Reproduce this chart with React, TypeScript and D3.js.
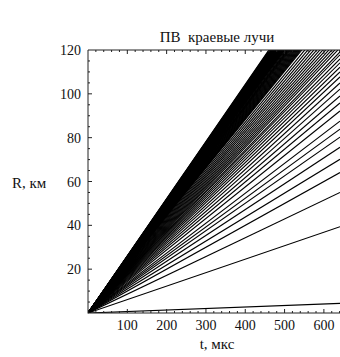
import { useEffect, useRef } from "react"
import * as d3 from "d3"

// ray speeds R/t, km per µs (read from where each ray leaves the frame)
const raySpeeds = [
  0.2608, 0.2601, 0.2594, 0.2587, 0.258, 0.2573, 0.2566, 0.2559, 0.2552, 0.2545,
  0.2538, 0.2531, 0.2525, 0.2518, 0.2511, 0.2504, 0.2498, 0.2491, 0.2485, 0.2478,
  0.2472, 0.2465, 0.2459, 0.2452, 0.2446, 0.244, 0.2434, 0.2427, 0.2421, 0.2415,
  0.2409, 0.2402, 0.2396, 0.2384, 0.2372, 0.2363, 0.2355, 0.2346, 0.2337, 0.2326,
  0.2314, 0.2303, 0.2292, 0.2281, 0.227, 0.2259, 0.2248, 0.2237, 0.2227, 0.2216,
  0.2206, 0.2176, 0.2146, 0.2117, 0.2089, 0.2062, 0.2035, 0.2009, 0.1984, 0.1959,
  0.1935, 0.1911, 0.1888, 0.1859, 0.1838, 0.1809, 0.1781, 0.175, 0.1716, 0.1681,
  0.1638, 0.1594, 0.1545, 0.1495, 0.1438, 0.1366, 0.1309, 0.1252, 0.118, 0.1094,
  0.1, 0.0858, 0.0614, 0.0068,
]

const xTickValues = [100, 200, 300, 400, 500, 600]
const yTickValues = [20, 40, 60, 80, 100, 120]
const tDomain = [0, 641]
const rDomain = [0, 120]

const title = "ПВ  краевые лучи"
const xTitle = "t, мкс"
const yTitle = "R, км"

export default function App() {
  const svgRef = useRef<SVGSVGElement>(null)

  useEffect(() => {
    if (!svgRef.current) return
    const svg = d3.select(svgRef.current)
    svg.selectAll("*").remove()

    const left = 88
    const right = 340
    const top = 50
    const bottom = 313
    const font = "'Liberation Serif', 'Times New Roman', serif"

    const x = d3.scaleLinear().domain(tDomain).range([left, right])
    const y = d3.scaleLinear().domain(rDomain).range([bottom, top])

    svg
      .append("defs")
      .append("clipPath")
      .attr("id", "plot-clip")
      .append("rect")
      .attr("x", left)
      .attr("y", top)
      .attr("width", right - left + 2)
      .attr("height", bottom - top)

    const line = d3
      .line<[number, number]>()
      .x((d) => x(d[0]))
      .y((d) => y(d[1]))

    svg
      .append("g")
      .attr("clip-path", "url(#plot-clip)")
      .selectAll("path")
      .data(raySpeeds)
      .enter()
      .append("path")
      .attr("d", (v) => line([[0, 0], [tDomain[1], v * tDomain[1]]]))
      .attr("fill", "none")
      .attr("stroke", "#000")
      .attr("stroke-width", 1.15)

    // frame
    const frame = svg.append("g").attr("stroke", "#222").attr("stroke-width", 1).attr("fill", "none")
    frame.append("line").attr("x1", left).attr("x2", left).attr("y1", top).attr("y2", bottom + 0.5)
    frame.append("line").attr("x1", left).attr("x2", right + 1).attr("y1", bottom).attr("y2", bottom)
    frame.append("line").attr("x1", left).attr("x2", right + 1).attr("y1", top).attr("y2", top)

    const xMinor = d3.range(20, tDomain[1], 20)
    const yMinor = d3.range(5, rDomain[1], 5)

    const tickG = svg.append("g").attr("stroke", "#222").attr("stroke-width", 1)
    xMinor.forEach((t) => {
      const len = t % 100 === 0 ? 4 : 2
      tickG.append("line").attr("x1", x(t)).attr("x2", x(t)).attr("y1", bottom).attr("y2", bottom - len)
      tickG.append("line").attr("x1", x(t)).attr("x2", x(t)).attr("y1", top).attr("y2", top + len)
    })
    yMinor.forEach((r) => {
      const len = r % 20 === 0 ? 4 : 2
      tickG.append("line").attr("x1", left).attr("x2", left + len).attr("y1", y(r)).attr("y2", y(r))
    })

    svg
      .append("g")
      .selectAll("text")
      .data(xTickValues)
      .enter()
      .append("text")
      .attr("x", (d) => x(d))
      .attr("y", bottom + 17)
      .attr("text-anchor", "middle")
      .style("font-family", font)
      .style("font-size", "14px")
      .style("fill", "#111")
      .text((d) => d)

    svg
      .append("g")
      .selectAll("text")
      .data(yTickValues)
      .enter()
      .append("text")
      .attr("x", left - 7)
      .attr("y", (d) => y(d) + 5)
      .attr("text-anchor", "end")
      .style("font-family", font)
      .style("font-size", "14px")
      .style("fill", "#111")
      .text((d) => d)

    svg
      .append("text")
      .attr("x", 217)
      .attr("y", 42)
      .attr("text-anchor", "middle")
      .style("font-family", font)
      .style("font-size", "15px")
      .style("fill", "#111")
      .style("white-space", "pre")
      .text(title)

    svg
      .append("text")
      .attr("x", 217)
      .attr("y", 349)
      .attr("text-anchor", "middle")
      .style("font-family", font)
      .style("font-size", "15px")
      .style("fill", "#111")
      .text(xTitle)

    svg
      .append("text")
      .attr("x", 12)
      .attr("y", 188)
      .style("font-family", font)
      .style("font-size", "15px")
      .style("fill", "#111")
      .text(yTitle)
  }, [])

  return (
    <svg
      ref={svgRef}
      width={340}
      height={357}
      style={{ position: "absolute", left: 0, top: 0, background: "#fff" }}
    ></svg>
  )
}
